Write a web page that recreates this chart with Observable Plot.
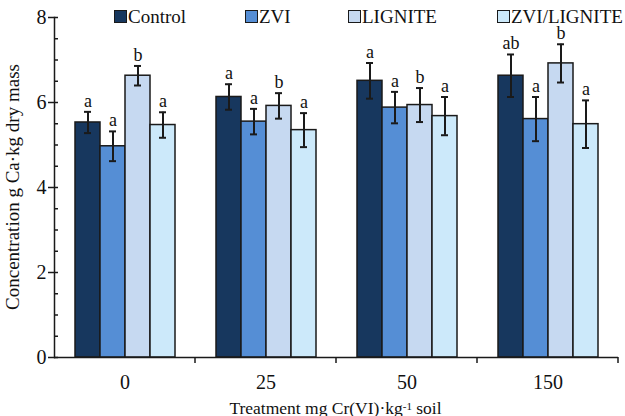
<!DOCTYPE html>
<html><head><meta charset="utf-8">
<script src="https://cdn.jsdelivr.net/npm/d3@7"></script>
<script src="https://cdn.jsdelivr.net/npm/@observablehq/plot@0.6"></script>
<style>
html,body{margin:0;padding:0;background:#fff}
#wrap{position:relative;width:625px;height:416px;overflow:hidden;font-family:'Liberation Serif','Times New Roman',serif;color:#111}
#wrap svg{position:absolute;left:0;top:0}
.leg{position:absolute;top:7px;font-size:19px;line-height:19px;white-space:nowrap;display:flex;align-items:center}
.sw{width:11px;height:11px;border:1.5px solid #1a1a1a;margin-right:1px;box-sizing:content-box}
#xlab{position:absolute;left:0;width:671px;text-align:center;top:400px;font-size:17.5px;line-height:17.5px;white-space:nowrap}
#xlab sup{font-size:11px;vertical-align:top;position:relative;top:-2px}
</style></head><body><div id="wrap"></div>
<script>
// ---- data ----
const groups = ["0", "25", "50", "150"];
const series = ["Control", "ZVI", "LIGNITE", "ZVI/LIGNITE"];
const colors = ["#17375e", "#558ed5", "#c6d9f1", "#cce9fa"];

const control    = [5.53, 6.13, 6.51, 6.63];
const zvi        = [4.97, 5.55, 5.88, 5.61];
const lignite    = [6.63, 5.92, 5.94, 6.92];
const zviLignite = [5.47, 5.35, 5.68, 5.49];

const controlErr    = [0.25, 0.30, 0.42, 0.50];
const zviErr        = [0.35, 0.30, 0.37, 0.52];
const ligniteErr    = [0.23, 0.30, 0.40, 0.45];
const zviLigniteErr = [0.30, 0.40, 0.45, 0.56];

const controlLetters    = ["a", "a", "a", "ab"];
const zviLetters        = ["a", "a", "a", "a"];
const ligniteLetters    = ["b", "b", "b", "b"];
const zviLigniteLetters = ["a", "a", "a", "a"];

const yTicks = [0, 2, 4, 6, 8];
const yMinorTicks = [0, 0.5, 1, 1.5, 2, 2.5, 3, 3.5, 4, 4.5, 5, 5.5, 6, 6.5, 7, 7.5, 8];
const yLabel = "Concentration g Ca·kg dry mass";

// ---- table ----
const vals = [control, zvi, lignite, zviLignite];
const errs = [controlErr, zviErr, ligniteErr, zviLigniteErr];
const lets = [controlLetters, zviLetters, ligniteLetters, zviLigniteLetters];
const data = [];
groups.forEach((g, gi) => series.forEach((s, si) => {
  const v = vals[si][gi], e = errs[si][gi];
  data.push({group: g, series: s, value: v, lo: v - e, hi: v + e, letter: lets[si][gi]});
}));

const W = 625, H = 416, mt = 17, mb = 59, ml = 52, mr = 6;
const ink = "#1a1a1a";
const font = "'Liberation Serif','Times New Roman',serif";

const chart = Plot.plot({
  width: W, height: H,
  marginTop: mt, marginBottom: mb, marginLeft: ml, marginRight: mr,
  style: {fontFamily: font, fontSize: "20px", color: "#111", background: "transparent", overflow: "visible"},
  fx: {domain: groups, paddingInner: 0, paddingOuter: 0, label: null},
  x: {domain: series, paddingInner: 0, paddingOuter: 0.73, axis: null},
  y: {domain: [0, 8]},
  color: {domain: series, range: colors},
  marks: [
    Plot.barY(data, {fx: "group", x: "series", y: "value", fill: "series", stroke: ink, strokeWidth: 1.5}),
    Plot.ruleX(data, {fx: "group", x: "series", y1: "lo", y2: "hi", stroke: ink, strokeWidth: 2}),
    Plot.tickY(data, {fx: "group", x: "series", y: "hi", stroke: ink, strokeWidth: 2, insetLeft: 9, insetRight: 9}),
    Plot.tickY(data, {fx: "group", x: "series", y: "lo", stroke: ink, strokeWidth: 2, insetLeft: 9, insetRight: 9}),
    Plot.text(data, {fx: "group", x: "series", y: "hi", text: "letter", dy: -5, lineAnchor: "bottom", fontSize: 18, fill: "#111"}),
    Plot.ruleY([0], {stroke: ink, strokeWidth: 1.5}),
    Plot.frame({anchor: "left", facet: "super", stroke: ink, strokeWidth: 1.5}),
    Plot.axisY({ticks: yTicks, tickSize: 6, tickPadding: 2, stroke: ink, strokeWidth: 1.5, label: null}),
    Plot.axisY({ticks: yMinorTicks, tickSize: -4, tickFormat: () => "", label: null, stroke: ink, strokeWidth: 1.5}),
    Plot.axisFx({anchor: "bottom", tickSize: 0, tickPadding: 17, label: null})
  ]
});

const wrap = document.getElementById("wrap");
wrap.appendChild(chart);

// group boundary ticks and y title, placed with the chart's own scales
const svg = d3.select(chart);
const fx = chart.scale("fx"), y = chart.scale("y");
const y0 = y.apply(0);
svg.append("g").selectAll("line").data(groups).join("line")
  .attr("x1", g => fx.apply(g) + fx.bandwidth).attr("x2", g => fx.apply(g) + fx.bandwidth)
  .attr("y1", y0).attr("y2", y0 + 6)
  .attr("stroke", ink).attr("stroke-width", 1.5);
const yc = (y.apply(0) + y.apply(8)) / 2;
svg.append("text")
  .attr("transform", `translate(19,${yc}) rotate(-90)`)
  .attr("text-anchor", "middle")
  .attr("font-family", font).attr("font-size", 19).attr("fill", "#111")
  .text(yLabel);

// legend
const legLeft = [114, 245, 348, 497];
series.forEach((s, i) => {
  const d = document.createElement("div");
  d.className = "leg";
  d.style.left = legLeft[i] + "px";
  const sw = document.createElement("span");
  sw.className = "sw";
  sw.style.background = colors[i];
  d.appendChild(sw);
  d.appendChild(document.createTextNode(s));
  wrap.appendChild(d);
});

// x-axis title
const xl = document.createElement("div");
xl.id = "xlab";
xl.innerHTML = "Treatment mg Cr(VI)·kg<sup>-1</sup> soil";
wrap.appendChild(xl);
</script>
</body></html>
